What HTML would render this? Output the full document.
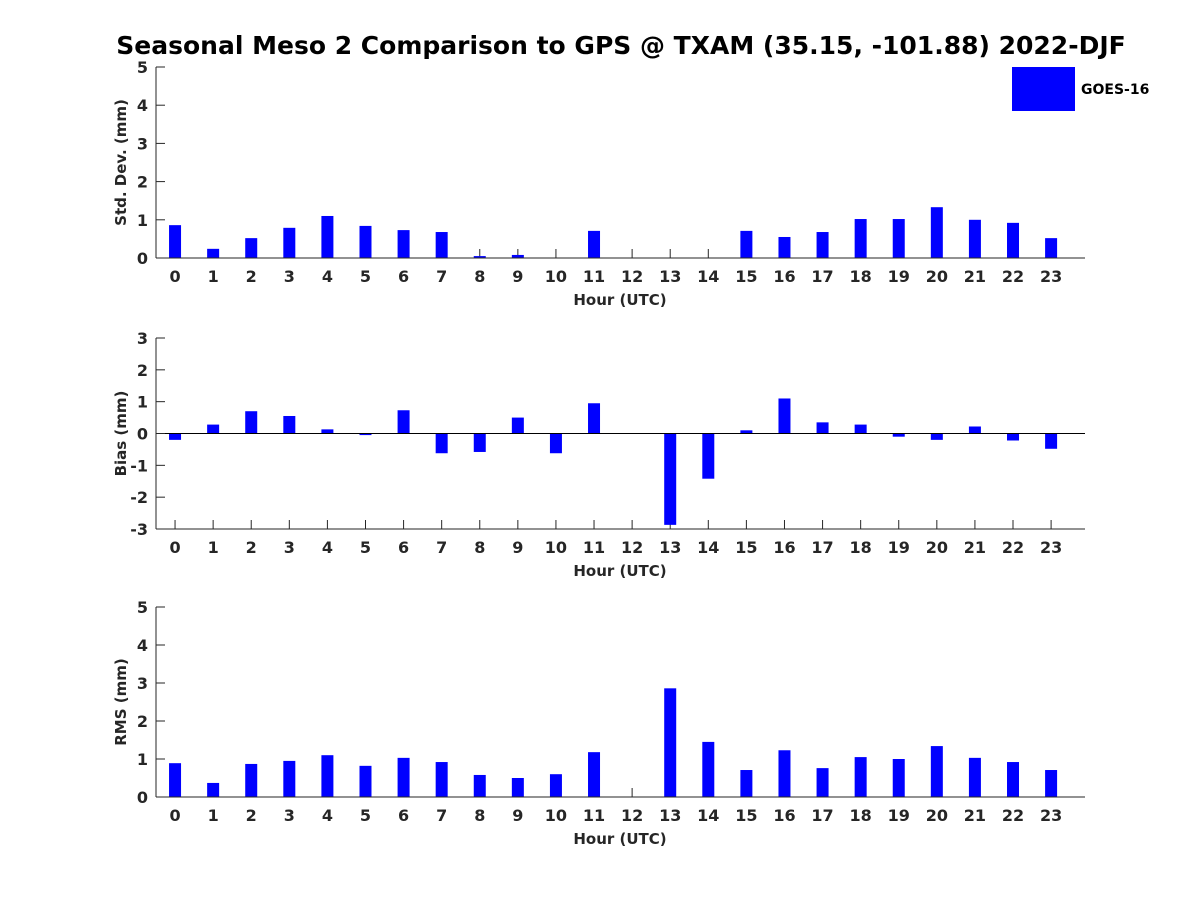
<!DOCTYPE html>
<html><head><meta charset="utf-8"><style>
body{margin:0;background:#fff;}
svg text{font-family:"DejaVu Sans","Liberation Sans",sans-serif;font-weight:bold;fill:#262626;}
</style></head><body>
<svg id="chart" width="1200" height="900" xmlns="http://www.w3.org/2000/svg">
<text x="621" y="54" font-size="25" text-anchor="middle" style="fill:#000">Seasonal Meso 2 Comparison to GPS @ TXAM (35.15, -101.88) 2022-DJF</text>
<rect x="1012" y="67" width="63" height="44" fill="#0000ff"/>
<text x="1081" y="94" font-size="14" style="fill:#000">GOES-16</text>
</svg>
<script>
const hours = [0,1,2,3,4,5,6,7,8,9,10,11,12,13,14,15,16,17,18,19,20,21,22,23];
const stdValues = [0.86,0.24,0.52,0.79,1.1,0.84,0.73,0.68,0.05,0.08,0,0.71,0,0,0,0.71,0.55,0.68,1.02,1.02,1.33,1.0,0.92,0.52];
const biasValues = [-0.2,0.28,0.7,0.55,0.13,-0.05,0.73,-0.62,-0.58,0.5,-0.62,0.95,0,-2.87,-1.42,0.1,1.1,0.35,0.28,-0.1,-0.2,0.22,-0.22,-0.48];
const rmsValues = [0.89,0.37,0.87,0.95,1.1,0.82,1.03,0.92,0.58,0.5,0.6,1.18,0,2.86,1.45,0.71,1.23,0.76,1.05,1.0,1.34,1.03,0.92,0.71];
const stdTicks = [0,1,2,3,4,5];
const biasTicks = [-3,-2,-1,0,1,2,3];
const rmsTicks = [0,1,2,3,4,5];

const svg = document.getElementById('chart');
const NS = 'http://www.w3.org/2000/svg';
function mk(tag, attrs){const e=document.createElementNS(NS,tag);for(const k in attrs)e.setAttribute(k,attrs[k]);svg.appendChild(e);return e;}
const L=156,R=1085,xmin=-0.5,xmax=23.89;
const xs = v => L+(v-xmin)/(xmax-xmin)*(R-L);
const bw = 12;

function panel(key, top, bottom, ymin, ymax, vals, ticks, label){
  const ys = v => bottom-(v-ymin)/(ymax-ymin)*(bottom-top);
  hours.forEach(h=>{
    const x=xs(h);
    mk('line',{x1:x,y1:bottom,x2:x,y2:bottom-9,stroke:'#262626'});
    const tx=mk('text',{x:x,y:bottom+24,'font-size':16,'text-anchor':'middle'});
    tx.textContent=h;
    
    
  });
  vals.forEach((v,i)=>{
    const y1=ys(Math.max(v,0)), y2=ys(Math.min(v,0));
    const r=mk('rect',{x:xs(hours[i])-bw/2,y:y1,width:bw,height:Math.max(y2-y1,0),fill:'#0000ff'});
    
    
  });
  let a=mk('line',{x1:L,y1:top,x2:L,y2:bottom,stroke:'#262626','stroke-width':1});
  
  
  a=mk('line',{x1:L,y1:bottom,x2:R,y2:bottom,stroke:'#262626','stroke-width':1});
  
  
  if(ymin<0){
    a=mk('line',{x1:L,y1:ys(0),x2:R,y2:ys(0),stroke:'#000','stroke-width':1});
    
    
  }
  ticks.forEach(t=>{
    const y=ys(t);
    mk('line',{x1:L,y1:y,x2:L+9,y2:y,stroke:'#262626'});
    const tx=mk('text',{x:L-8,y:y+6,'font-size':16,'text-anchor':'end'});
    tx.textContent=t;
    
    
  });
  let t=mk('text',{x:620,y:bottom+47,'font-size':15,'text-anchor':'middle'});
  t.textContent='Hour (UTC)';
  
  
  const cy=(top+bottom)/2;
  t=mk('text',{x:126,y:cy,'font-size':15,'text-anchor':'middle',transform:`rotate(-90 126 ${cy})`});
  t.textContent=label;
  
  
}
panel('std',67,258,0,5,stdValues,stdTicks,'Std. Dev. (mm)');
panel('bias',338,529,-3,3,biasValues,biasTicks,'Bias (mm)');
panel('rms',607,797,0,5,rmsValues,rmsTicks,'RMS (mm)');
</script>
</body></html>
